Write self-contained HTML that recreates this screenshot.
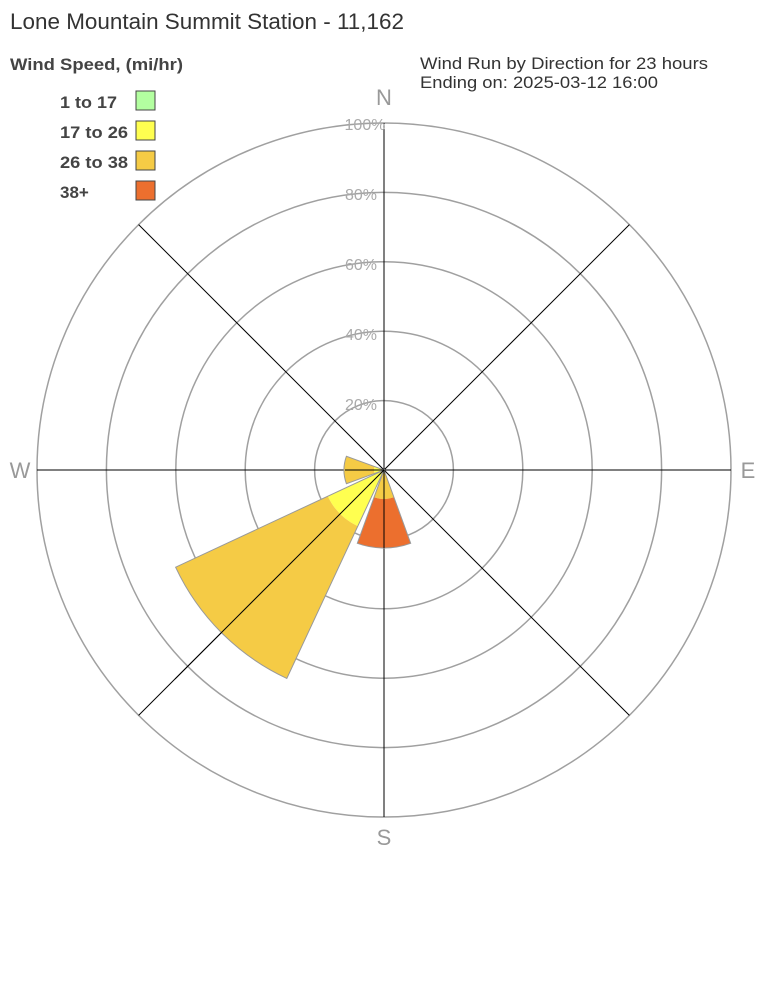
<!DOCTYPE html>
<html><head><meta charset="utf-8"><style>
body{margin:0;background:#fff;width:768px;height:1008px;overflow:hidden}
svg{display:block}
</style></head><body>
<svg width="768" height="1008" xmlns="http://www.w3.org/2000/svg" font-family="Liberation Sans, Arial, sans-serif">
<rect width="768" height="1008" fill="#fff"/>
<text x="10" y="29" font-size="22" fill="#333" textLength="394" lengthAdjust="spacingAndGlyphs">Lone Mountain Summit Station - 11,162</text>
<text x="10" y="70" font-size="17" font-weight="bold" fill="#444" textLength="173" lengthAdjust="spacingAndGlyphs">Wind Speed, (mi/hr)</text>
<text x="420" y="69" font-size="17" fill="#333" textLength="288" lengthAdjust="spacingAndGlyphs">Wind Run by Direction for 23 hours</text>
<text x="420" y="88" font-size="17" fill="#333" textLength="238" lengthAdjust="spacingAndGlyphs">Ending on: 2025-03-12 16:00</text>
<g font-size="17" font-weight="bold" fill="#444">
<text x="60" y="108" textLength="57" lengthAdjust="spacingAndGlyphs">1 to 17</text><rect x="136" y="91" width="19" height="19" fill="#b3ffa0" stroke="#444"/>
<text x="60" y="138" textLength="68" lengthAdjust="spacingAndGlyphs">17 to 26</text><rect x="136" y="121" width="19" height="19" fill="#ffff50" stroke="#444"/>
<text x="60" y="168" textLength="68" lengthAdjust="spacingAndGlyphs">26 to 38</text><rect x="136" y="151" width="19" height="19" fill="#f5cb45" stroke="#444"/>
<text x="60" y="198">38+</text><rect x="136" y="181" width="19" height="19" fill="#ec6f2e" stroke="#444"/>
</g>
<g fill="none" stroke="#a0a0a0" stroke-width="1.5">
<circle cx="384" cy="470" r="69.4"/><circle cx="384" cy="470" r="138.8"/><circle cx="384" cy="470" r="208.2"/><circle cx="384" cy="470" r="277.6"/><circle cx="384" cy="470" r="347"/>
</g>
<g stroke="#000" stroke-width="1">
<line x1="384" y1="123" x2="384" y2="817"/>
<line x1="37" y1="470" x2="731" y2="470"/>
<line x1="138.6" y1="224.6" x2="629.4" y2="715.4"/>
<line x1="629.4" y1="224.6" x2="138.6" y2="715.4"/>
</g>
<g stroke="#999" stroke-width="1">
<path d="M384 470 L357.8 526.2 A62 62 0 0 1 327.8 496.2 Z" fill="#ffff50" stroke="none"/>
<path d="M357.8 526.2 L286.8 678.4 A230 230 0 0 1 175.6 567.2 L327.8 496.2 A62 62 0 0 0 357.8 526.2 Z" fill="#f5cb45" stroke="none"/>
<path d="M384 470 L286.8 678.4 A230 230 0 0 1 175.6 567.2 Z" fill="none"/>
<path d="M384 470 L374.6 473.4 A10 10 0 0 1 374.6 466.6 Z" fill="#ffff50" stroke="none"/>
<path d="M374.6 473.4 L346.4 483.7 A40 40 0 0 1 346.4 456.3 L374.6 466.6 A10 10 0 0 0 374.6 473.4 Z" fill="#f5cb45" stroke="none"/>
<path d="M384 470 L346.4 483.7 A40 40 0 0 1 346.4 456.3 Z" fill="none"/>
<path d="M384 470 L393.9 497.3 A29 29 0 0 1 374.1 497.3 Z" fill="#f5cb45" stroke="none"/>
<path d="M393.9 497.3 L410.7 543.3 A78 78 0 0 1 357.3 543.3 L374.1 497.3 A29 29 0 0 0 393.9 497.3 Z" fill="#ec6f2e" stroke="none"/>
<path d="M384 470 L410.7 543.3 A78 78 0 0 1 357.3 543.3 Z" fill="none"/>
</g>
<g stroke="#000" stroke-width="1">
<line x1="384" y1="470" x2="175" y2="679"/>
<line x1="384" y1="470" x2="384" y2="548"/>
<line x1="345" y1="470" x2="384" y2="470"/>
</g>
<g font-size="16" fill="#aaa" text-anchor="middle">
<text x="365" y="130">100%</text><text x="361" y="200">80%</text><text x="361" y="270">60%</text><text x="361" y="340">40%</text><text x="361" y="410">20%</text>
</g>
<g font-size="22" fill="#999" text-anchor="middle">
<text x="384" y="105">N</text><text x="384" y="845">S</text><text x="20" y="478">W</text><text x="748" y="478">E</text>
</g>
</svg>
</body></html>
